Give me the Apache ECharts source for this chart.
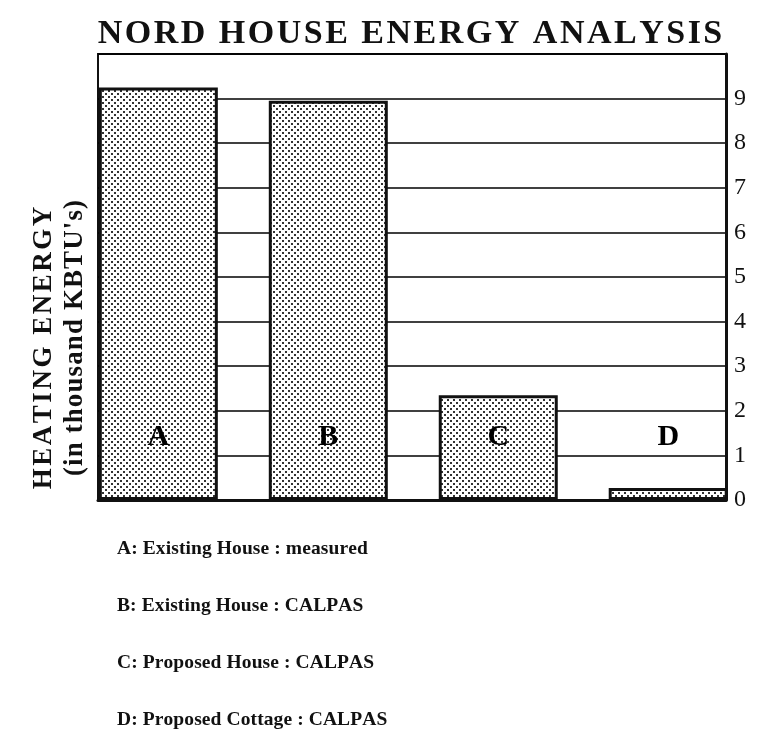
<!DOCTYPE html>
<html>
<head>
<meta charset="utf-8">
<script src="https://cdn.jsdelivr.net/npm/echarts@6/dist/echarts.min.js"></script>
<style>
  html, body { margin: 0; padding: 0; background: #fff; }
  #chart { width: 757px; height: 753px; }
</style>
</head>
<body>
<div id="chart"></div>
<script>
// Heating energy per case, in thousand KBTU's
const categories = ['A', 'B', 'C', 'D'];
const heatingEnergy = [9.25, 8.95, 2.35, 0.27];
const descriptions = [
  'A: Existing House : measured',
  'B: Existing House : CALPAS',
  'C: Proposed House : CALPAS',
  'D: Proposed Cottage : CALPAS'
];
const tickLabels = ['0', '1', '2', '3', '4', '5', '6', '7', '8', '9'];
const titleText = 'NORD HOUSE ENERGY ANALYSIS';
const axisTitle = ['HEATING ENERGY', "(in thousand KBTU's)"];
const letterLevel = 1.4;

const SERIF = '"Liberation Serif", "DejaVu Serif", serif';

// Halftone dot fill for the bars
function halftone() {
  const c = document.createElement('canvas');
  c.width = 6; c.height = 6;
  const g = c.getContext('2d');
  g.fillStyle = '#fff';
  g.fillRect(0, 0, 6, 6);
  g.fillStyle = '#333';
  g.fillRect(0, 0, 2, 2);
  g.fillRect(3, 3, 2, 2);
  return c;
}

// Letter-spaced text laid out one glyph at a time inside a group
const measureCtx = document.createElement('canvas').getContext('2d');
function spacedText(text, opts) {
  measureCtx.font = opts.font;
  const widths = Array.from(text).map(ch => measureCtx.measureText(ch).width);
  const total = widths.reduce((a, b) => a + b, 0) + opts.spacing * (widths.length - 1);
  let cx = opts.align === 'left' ? 0 : -total / 2;
  const children = Array.from(text).map((ch, i) => {
    const el = {
      type: 'text', x: cx, y: 0,
      style: { text: ch, fill: '#111', font: opts.font, textAlign: 'left', textVerticalAlign: 'middle' }
    };
    cx += widths[i] + opts.spacing;
    return el;
  });
  return { type: 'group', x: opts.x, y: opts.y, rotation: opts.rotation || 0, children };
}

const chart = echarts.init(document.getElementById('chart'), null, { renderer: 'canvas' });

const descGraphics = descriptions.map((t, i) =>
  spacedText(t, { x: 117, y: 549 + i * 57, font: 'bold 19.5px ' + SERIF, spacing: 0.1, align: 'left' })
);

chart.setOption({
  backgroundColor: '#fff',
  animation: false,
  grid: {
    left: 98, right: 31, top: 54, bottom: 253,
    show: true, borderColor: '#111', borderWidth: 2
  },
  xAxis: {
    type: 'value', min: -0.355, max: 3.34,
    axisLine: { show: true, onZero: false, lineStyle: { color: '#111', width: 3 } },
    axisTick: { show: false }, axisLabel: { show: false }, splitLine: { show: false }
  },
  yAxis: {
    type: 'value', position: 'right', min: 0, max: 10, interval: 1,
    axisLine: { show: true, onZero: false, lineStyle: { color: '#111', width: 3 } },
    axisTick: { show: false },
    axisLabel: {
      color: '#111', fontFamily: SERIF, fontSize: 24, margin: 8,
      formatter: v => (tickLabels[v] !== undefined ? tickLabels[v] : '')
    },
    splitLine: { show: true, lineStyle: { color: '#000', width: 1.5 } }
  },
  graphic: [
    spacedText(titleText, { x: 410, y: 34, font: 'bold 34px ' + SERIF, spacing: 2.5 }),
    spacedText(axisTitle[0], { x: 44, y: 348, font: 'bold 27px ' + SERIF, spacing: 2.5, rotation: Math.PI / 2 }),
    spacedText(axisTitle[1], { x: 75, y: 338, font: 'bold 27px ' + SERIF, spacing: 1.1, rotation: Math.PI / 2 })
  ].concat(descGraphics),
  series: [
    {
      type: 'bar',
      barWidth: 119,
      data: heatingEnergy.map((v, i) => [i, v]),
      itemStyle: {
        color: { image: halftone(), repeat: 'repeat' },
        borderColor: '#111', borderWidth: 3
      },
      z: 3
    },
    {
      type: 'scatter',
      symbolSize: 0,
      itemStyle: { color: '#111', opacity: 1 },
      data: categories.map((c, i) => [i, letterLevel]),
      label: {
        show: true, position: 'inside', opacity: 1,
        formatter: p => categories[p.dataIndex],
        color: '#000', fontFamily: SERIF, fontWeight: 'bold', fontSize: 30
      },
      emphasis: { disabled: true },
      z: 5
    }
  ]
});
</script>
</body>
</html>
